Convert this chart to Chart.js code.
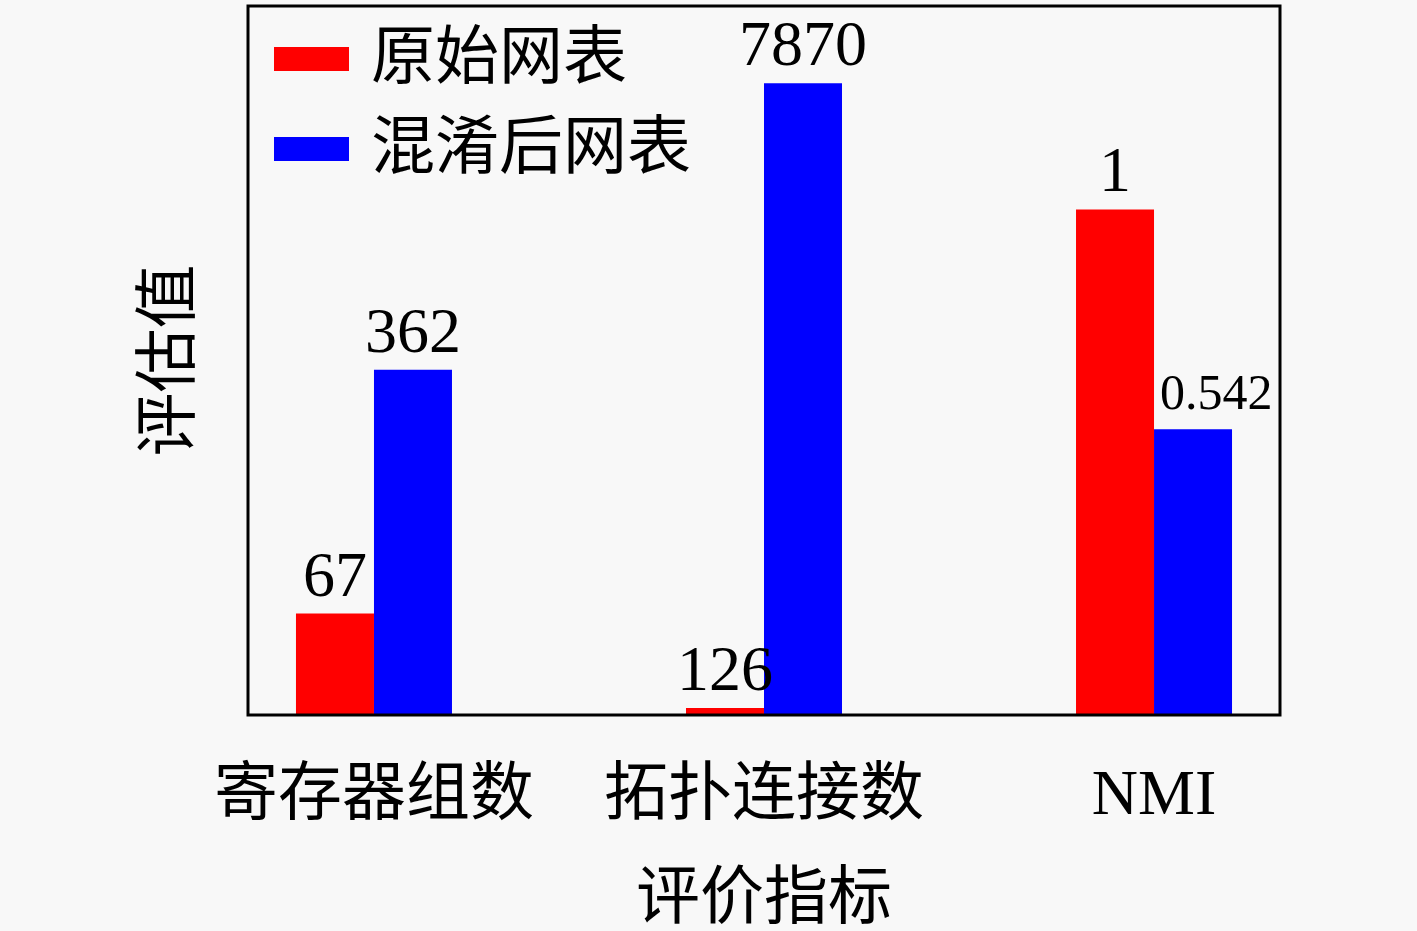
<!DOCTYPE html>
<html>
<head>
<meta charset="utf-8">
<script src="https://cdn.jsdelivr.net/npm/chart.js@4"></script>
<style>
  html, body { margin: 0; padding: 0; background: #f8f8f8; }
  #wrap { width: 1417px; height: 931px; }
</style>
</head>
<body>
<div id="wrap"><canvas id="myChart" width="1417" height="931"></canvas></div>
<script>
// categories and series
var categories = ['寄存器组数', '拓扑连接数', 'NMI']
var seriesNames = ['原始网表', '混淆后网表']
// values printed above the bars
var originalValues = [67, 126, 1]
var obfuscatedValues = [362, 7870, 0.542]
// bar heights as drawn (percent of the plot height, each group scaled on its own)
var originalHeights = [14.3, 1.0, 71.3]
var obfuscatedHeights = [48.7, 89.1, 40.3]

var serif = "'Liberation Serif', 'Noto Sans CJK SC', serif"

function toPoints(h) {
    return h.map(function (v, i) { return { x: i, y: v } })
}

// box around the plot
var frame = {
    id: 'frame',
    afterDraw: function (chart) {
        var a = chart.chartArea, ctx = chart.ctx
        ctx.save()
        ctx.strokeStyle = '#000'
        ctx.lineWidth = 3
        ctx.strokeRect(a.left, a.top, a.right - a.left, a.bottom - a.top)
        ctx.restore()
    }
}

// numbers over the bars
var valueLabels = {
    id: 'valueLabels',
    afterDatasetsDraw: function (chart) {
        var ctx = chart.ctx
        var printed = [originalValues, obfuscatedValues]
        ctx.save()
        ctx.fillStyle = '#000'
        ctx.textBaseline = 'alphabetic'
        chart.data.datasets.forEach(function (ds, d) {
            chart.getDatasetMeta(d).data.forEach(function (bar, i) {
                var v = printed[d][i]
                if (Number.isInteger(v)) {
                    ctx.font = '64px ' + serif
                    ctx.textAlign = 'center'
                    ctx.fillText(String(v), bar.x, bar.y - 18)
                } else {
                    // small fractional label sits from the bar's left edge
                    ctx.font = '50px ' + serif
                    ctx.textAlign = 'left'
                    ctx.fillText(String(v), bar.x - bar.width / 2 + 6, bar.y - 20)
                }
            })
        })
        ctx.restore()
    }
}

// legend inside the upper left corner
var innerLegend = {
    id: 'innerLegend',
    afterDraw: function (chart) {
        var ctx = chart.ctx, a = chart.chartArea
        ctx.save()
        ctx.font = '64px ' + serif
        ctx.textBaseline = 'middle'
        ctx.textAlign = 'left'
        chart.data.datasets.forEach(function (ds, d) {
            var cy = a.top + 53 + d * 90
            ctx.fillStyle = ds.backgroundColor
            ctx.fillRect(a.left + 26, cy - 12, 75, 24)
            ctx.fillStyle = '#000'
            ctx.fillText(ds.label, a.left + 123, cy + 2)
        })
        ctx.restore()
    }
}

var ctx = document.getElementById('myChart').getContext('2d')
var chart = new Chart(ctx, {
    type: 'bar',
    data: {
        datasets: [{
            label: seriesNames[0],
            backgroundColor: '#ff0000',
            data: toPoints(originalHeights)
        }, {
            label: seriesNames[1],
            backgroundColor: '#0000ff',
            data: toPoints(obfuscatedHeights)
        }]
    },
    options: {
        responsive: false,
        animation: false,
        categoryPercentage: 0.4,
        barPercentage: 1.0,
        layout: { padding: { left: 0, right: 137, top: 6, bottom: 0 } },
        plugins: {
            legend: { display: false },
            tooltip: { enabled: false }
        },
        scales: {
            x: {
                type: 'linear',
                offset: false,
                min: -0.323,
                max: 2.323,
                grid: { display: false, drawTicks: false },
                border: { display: false },
                afterBuildTicks: function (scale) {
                    scale.ticks = categories.map(function (c, i) { return { value: i } })
                },
                ticks: {
                    autoSkip: false,
                    maxRotation: 0,
                    padding: 50,
                    color: '#000',
                    font: { family: serif, size: 64, lineHeight: 1 },
                    callback: function (v) { return categories[v] }
                },
                title: {
                    display: true,
                    text: '评价指标',
                    color: '#000',
                    font: { family: serif, size: 64, lineHeight: 1 },
                    padding: { top: -10, bottom: -2 }
                }
            },
            y: {
                min: 0,
                max: 100,
                grid: { display: false, drawTicks: false },
                border: { display: false },
                ticks: { display: false },
                title: {
                    display: true,
                    text: '评估值',
                    color: '#000',
                    font: { family: serif, size: 64, lineHeight: 1 },
                    padding: { top: 140, bottom: 44 }
                }
            }
        }
    },
    plugins: [frame, valueLabels, innerLegend]
})
</script>
</body>
</html>
